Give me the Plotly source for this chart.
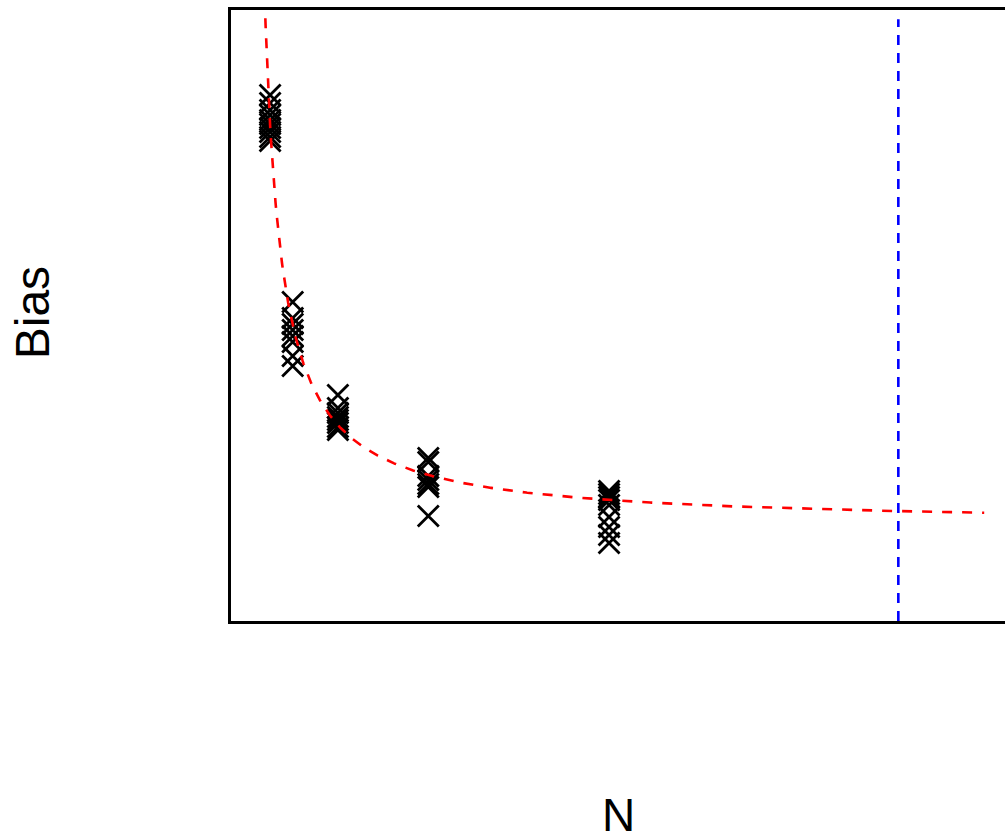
import numpy as np
import plotly.graph_objects as go

n_100 = [100] * 10
bias_100 = [1.375, 1.355, 1.3375, 1.325, 1.3125, 1.3025, 1.2925, 1.2825, 1.27, 1.26]
n_200 = [200] * 8
bias_200 = [0.8575, 0.8175, 0.8025, 0.7875, 0.7725, 0.7575, 0.7225, 0.6975]
n_400 = [400] * 8
bias_400 = [0.625, 0.5925, 0.58, 0.57, 0.5625, 0.555, 0.545, 0.5375]
n_800 = [800] * 7
bias_800 = [0.4675, 0.4575, 0.4225, 0.4125, 0.4025, 0.395, 0.3225]
n_1600 = [1600] * 9
bias_1600 = [0.385, 0.3775, 0.37, 0.3625, 0.35, 0.32, 0.295, 0.275, 0.255]

# Fitted model bias = intercept + slope / N (parameters)
fit_intercept = 0.3
fit_slope = 100.0
fit_n_min = 60
fit_n_max = 3260

# Vertical reference line position
ref_n = 2880

all_n = n_100 + n_200 + n_400 + n_800 + n_1600
all_bias = bias_100 + bias_200 + bias_400 + bias_800 + bias_1600

curve_n = np.linspace(fit_n_min, fit_n_max, 800)
curve_bias = fit_intercept + fit_slope / curve_n

fig = go.Figure()
fig.add_trace(go.Scatter(
    x=all_n, y=all_bias, mode="markers",
    marker=dict(symbol="x-thin", size=21, line=dict(color="black", width=2.8)),
    showlegend=False, cliponaxis=False,
))
fig.add_trace(go.Scatter(
    x=curve_n, y=curve_bias, mode="lines",
    line=dict(color="#ff0000", width=2.6, dash="10px,10px"),
    showlegend=False,
))
fig.add_shape(type="line", xref="x", yref="paper", x0=ref_n, x1=ref_n, y0=0, y1=0.985,
              line=dict(color="#0000ff", width=2.6, dash="10px,8px"), layer="above")

fig.update_layout(
    width=1005, height=840,
    margin=dict(l=231, r=0, t=10, b=219),
    plot_bgcolor="white", paper_bgcolor="white",
    font=dict(family="Liberation Sans, Arial, sans-serif", color="black"),
    xaxis=dict(range=[-73, 3352], showgrid=False, zeroline=False, showticklabels=False,
               ticks="", showline=True, linecolor="black", linewidth=2.5, mirror=True),
    yaxis=dict(range=[0.06, 1.5875], showgrid=False, zeroline=False, showticklabels=False,
               ticks="", showline=True, linecolor="black", linewidth=2.5, mirror=False),
    annotations=[
        dict(text="N", xref="paper", yref="paper", x=0.5, y=-0.318, xanchor="center",
             yanchor="middle", showarrow=False, font=dict(size=46, color="black")),
        dict(text="Bias", xref="paper", yref="paper", x=-0.256, y=0.505, xanchor="center",
             yanchor="middle", showarrow=False, textangle=-90, font=dict(size=48, color="black")),
    ],
)

fig.write_html("out.html")
